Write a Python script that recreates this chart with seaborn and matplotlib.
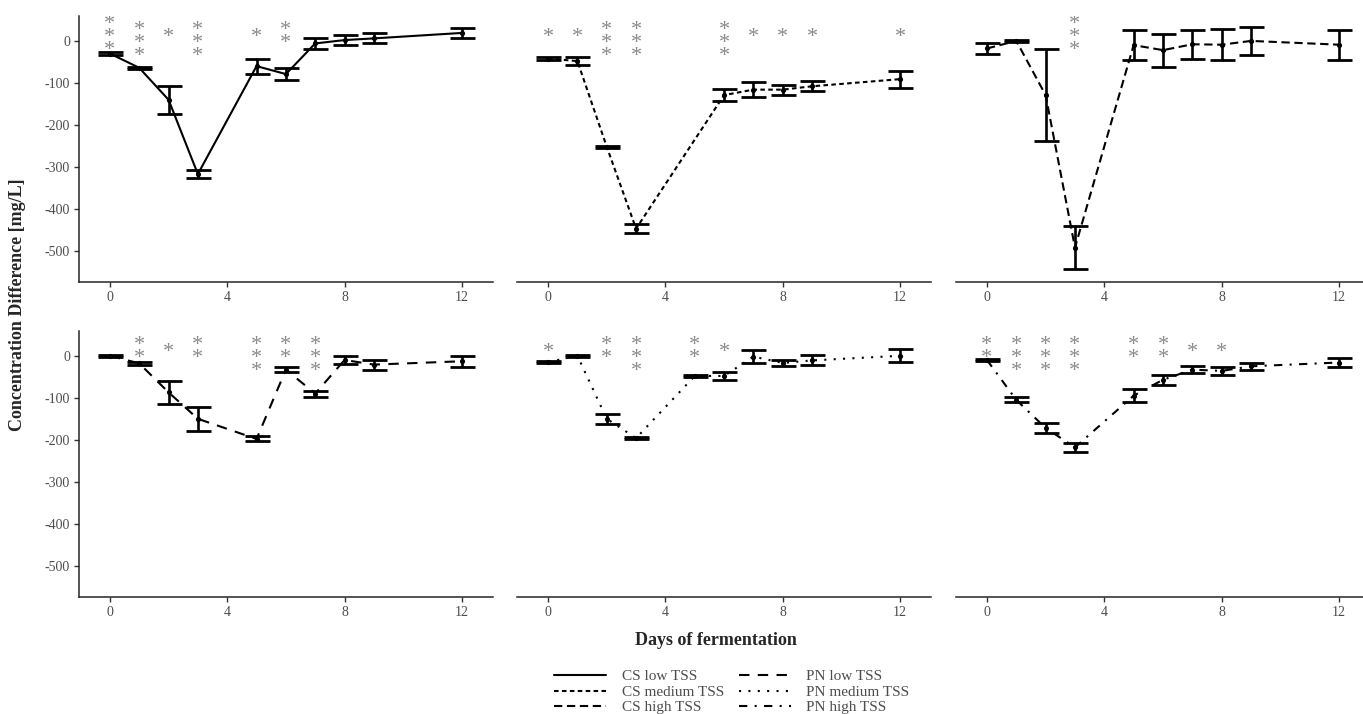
"""
Concentration difference over fermentation days, six treatments (CS / PN x low / medium / high TSS)
"""
import numpy as np
import pandas as pd
import matplotlib
matplotlib.use("Agg")
import matplotlib.pyplot as plt
import seaborn as sns
from matplotlib.lines import Line2D

# Values (mean, error half-width, number of stars)
cs_low_days = [0, 1, 2, 3, 5, 6, 7, 8, 9, 12]
cs_low_mean = [-30, -64, -140, -317, -60, -79, -6, 2, 6, 19]
cs_low_err = [3, 3, 33, 10, 18, 14, 14, 12, 12, 12]
cs_low_stars = [3, 4, 1, 4, 1, 2, 0, 0, 0, 0]

cs_med_days = [0, 1, 2, 3, 6, 7, 8, 9, 12]
cs_med_mean = [-42, -48, -252, -447, -129, -116, -116, -108, -91]
cs_med_err = [4, 9, 3, 11, 15, 18, 12, 12, 20]
cs_med_stars = [1, 1, 4, 4, 4, 1, 1, 1, 1]

cs_high_days = [0, 1, 2, 3, 5, 6, 7, 8, 9, 12]
cs_high_mean = [-18, 0, -129, -492, -10, -22, -8, -9, 0, -9]
cs_high_err = [13, 2, 110, 52, 36, 39, 35, 37, 34, 36]
cs_high_stars = [0, 0, 0, 3, 0, 0, 0, 0, 0, 0]

pn_low_days = [0, 1, 2, 3, 5, 6, 7, 8, 9, 12]
pn_low_mean = [0, -18, -87, -150, -198, -33, -90, -10, -21, -13]
pn_low_err = [3, 4, 28, 28, 6, 6, 7, 9, 12, 13]
pn_low_stars = [0, 2, 1, 2, 4, 2, 4, 0, 0, 0]

pn_med_days = [0, 1, 2, 3, 5, 6, 7, 8, 9, 12]
pn_med_mean = [-15, 0, -150, -196, -48, -48, -2, -17, -11, 0]
pn_med_err = [3, 2, 12, 3, 2, 9, 16, 8, 12, 15]
pn_med_stars = [1, 0, 2, 4, 2, 1, 0, 0, 0, 0]

pn_high_days = [0, 1, 2, 3, 5, 6, 7, 8, 9, 12]
pn_high_mean = [-10, -105, -172, -218, -95, -57, -33, -36, -25, -16]
pn_high_err = [3, 6, 12, 11, 15, 12, 9, 10, 9, 10]
pn_high_stars = [2, 4, 4, 4, 2, 2, 1, 1, 0, 0]

labels = ["CS low TSS", "CS medium TSS", "CS high TSS",
          "PN low TSS", "PN medium TSS", "PN high TSS"]
x_ticks = [0, 4, 8, 12]
y_ticks = [0, -100, -200, -300, -400, -500]

# line types, roughly like ggplot's solid / dashed / longdash / twodash / dotted / dotdash
linestyles = ["-", (0, (2.2, 1.6)), (0, (4, 2.2)),
              (0, (5, 4)), (0, (1, 3.5)), (0, (4, 3.5, 1, 3.5))]

series = [
    (cs_low_days, cs_low_mean, cs_low_err, cs_low_stars),
    (cs_med_days, cs_med_mean, cs_med_err, cs_med_stars),
    (cs_high_days, cs_high_mean, cs_high_err, cs_high_stars),
    (pn_low_days, pn_low_mean, pn_low_err, pn_low_stars),
    (pn_med_days, pn_med_mean, pn_med_err, pn_med_stars),
    (pn_high_days, pn_high_mean, pn_high_err, pn_high_stars),
]

sns.set_theme(style="ticks")
plt.rcParams["font.family"] = ["Liberation Serif", "DejaVu Serif"]
plt.rcParams["axes.unicode_minus"] = False

fig = plt.figure(figsize=(13.63, 7.14), dpi=100)

lefts = [0.058, 0.3795, 0.7015]
bottoms = [0.605, 0.164]
w, h = 0.3035, 0.373

axes = []
for i, (days, mean, err, stars) in enumerate(series):
    row, col = divmod(i, 3)
    ax = fig.add_axes([lefts[col], bottoms[row], w, h])
    axes.append(ax)
    df = pd.DataFrame({"day": days, "mean": mean, "err": err, "stars": stars})

    ax.errorbar(df["day"], df["mean"], yerr=df["err"], fmt="none",
                ecolor="black", elinewidth=1.9, capsize=9, capthick=2.0, zorder=2)
    sns.lineplot(data=df, x="day", y="mean", ax=ax, color="black",
                 linewidth=1.5, linestyle=linestyles[i], zorder=3)
    sns.scatterplot(data=df, x="day", y="mean", ax=ax, color="black",
                    s=14, edgecolor="black", linewidth=0, zorder=4)

    # significance stars, stacked vertically, centred a bit above zero
    for d, n in zip(df["day"], df["stars"]):
        if n > 0:
            ax.text(d, 9, "\n".join(["*"] * n), ha="center", va="center",
                    fontsize=16, color="#8a8a8a", linespacing=0.57,
                    clip_on=True, zorder=5)

    ax.set_xlim(-1.05, 13.05)
    ax.set_ylim(-574, 60)
    ax.set_xticks(x_ticks)
    ax.set_yticks(y_ticks)
    ax.set_xlabel("")
    ax.set_ylabel("")
    ax.tick_params(axis="both", length=3.5, width=1, color="#333333",
                   labelcolor="#4d4d4d", labelsize=10, pad=3)
    for s in ["top", "right"]:
        ax.spines[s].set_visible(False)
    ax.spines["bottom"].set_linewidth(1.1)
    ax.spines["left"].set_linewidth(1.1)
    if col > 0:
        ax.spines["left"].set_visible(False)
        ax.tick_params(axis="y", left=False, labelleft=False)

fig.text(0.013, 0.573, "Concentration Difference [mg/L]", rotation=90,
         ha="center", va="center", fontsize=13, fontweight="bold")
fig.text(0.525, 0.103, "Days of fermentation", ha="center", va="center",
         fontsize=13, fontweight="bold")

handles = [Line2D([0], [0], color="black", linewidth=1.5, linestyle=ls)
           for ls in linestyles]
leg = fig.legend(handles, labels, ncol=2, loc="upper center",
                 bbox_to_anchor=(0.537, 0.062), frameon=False, fontsize=11,
                 handlelength=3.4, handletextpad=1.0, columnspacing=1.0,
                 labelspacing=0.12, borderaxespad=0, borderpad=0)
for t in leg.get_texts():
    t.set_color("#4d4d4d")

fig.savefig("out.png", dpi=100)
